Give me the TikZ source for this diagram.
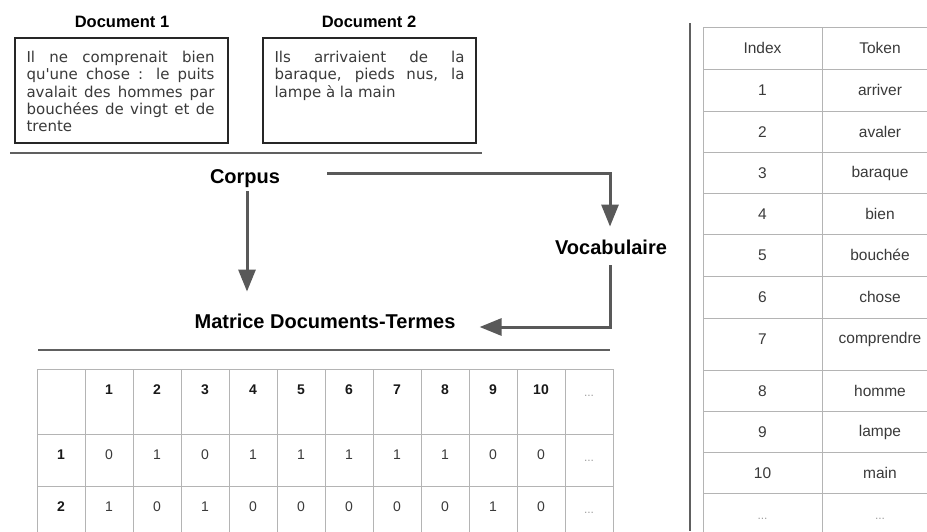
\documentclass[tikz,border=0pt]{standalone}
\usepackage{fontspec}
\setmainfont{Liberation Sans}
\newfontfamily\boxfont{DejaVu Sans}
\usetikzlibrary{arrows.meta}
\definecolor{arrgray}{HTML}{595959}
\definecolor{sepgray}{HTML}{606060}
\definecolor{gridgray}{HTML}{B4B4B4}
\definecolor{txtgray}{HTML}{3A3A3A}
\definecolor{dotgray}{HTML}{A0A0A0}
\begin{document}
\begin{tikzpicture}[x=1pt,y=-1pt,
  heading/.style={font=\fontsize{20}{24}\selectfont\bfseries, text height=14.5pt, text depth=4pt, inner sep=3pt},
  dochead/.style={font=\fontsize{16.5}{20}\selectfont\bfseries, inner sep=0pt},
  docbox/.style={draw=black!85, line width=1.3pt, minimum width=213pt, minimum height=105pt, inner sep=0pt},
  doctext/.style={font=\boxfont\fontsize{15}{17.3}\selectfont, text=txtgray, align=justify, inner sep=0pt, anchor=north west},
  arr/.style={draw=arrgray, line width=3pt, -{Triangle[width=17pt,length=22pt]}},
  sepline/.style={draw=sepgray, line width=2.5pt},
  gridline/.style={draw=gridgray, line width=1pt},
  cellb/.style={font=\fontsize{14}{16}\selectfont\bfseries, text=black!90, inner sep=0pt},
  cellv/.style={font=\fontsize{14}{16}\selectfont, text=txtgray, inner sep=0pt},
  celld/.style={font=\fontsize{12}{14}\selectfont, text=dotgray, inner sep=0pt, text height=10pt, text depth=0pt},
  vcell/.style={font=\fontsize{15.5}{18}\selectfont, text=txtgray, inner sep=0pt},
]
\useasboundingbox (0,0) rectangle (927,531);
\fill[white] (0,0) rectangle (927,531);
\clip (0,0) rectangle (927,531);

% documents
\node[dochead] (h1) at (122,22) {Document 1};
\node[dochead] (h2) at (369,22) {Document 2};
\node[docbox] (box1) at (121.5,90.5) {};
\node[docbox] (box2) at (369.5,90.5) {};
\node[doctext, text width=188pt] (t1) at ([xshift=12pt,yshift=-13.5pt]box1.north west)
  {Il ne comprenait bien\linebreak qu'une chose : le puits\linebreak avalait des hommes par\linebreak bouchées de vingt et de\linebreak trente};
\node[doctext, text width=190pt] (t2) at ([xshift=12pt,yshift=-13.5pt]box2.north west)
  {Ils arrivaient de la\linebreak baraque, pieds nus, la\linebreak lampe à la main};

\draw[sepline] (10,153) -- (482,153);

% flow
\node[heading] (corpus) at (245,178) {Corpus};
\node[heading] (vocab) at (611,249) {Vocabulaire};
\node[heading] (matrice) at (325,323) {Matrice Documents-Termes};

\draw[arr, shorten <=1pt, shorten >=19pt] ([xshift=2pt]corpus.south) -- ([xshift=2pt]corpus.south |- matrice.north);
\draw[arr, shorten <=44pt, shorten >=10pt] ([yshift=5pt]corpus.east) -| ([xshift=-1pt]vocab.north);
\draw[arr, shorten <=4pt, shorten >=21pt] ([xshift=-1pt]vocab.south) |- ([yshift=-4pt]matrice.east);

\draw[sepline] (38,350) -- (610,350);

% matrix table
\foreach \i in {0,...,12} \draw[gridline] (37+48*\i,369) -- (37+48*\i,540);
\foreach \yy in {369,434,486} \draw[gridline] (37,\yy) -- (613,\yy);
\foreach \c in {1,...,10} \node[cellb] (mh-\c) at (61+48*\c,390) {\c};
\node[celld] (mh-11) at (61+48*11,391) {...};
\node[cellb] (mr-1) at (61,455) {1};
\node[cellb] (mr-2) at (61,507) {2};
\foreach \v [count=\c] in {0,1,0,1,1,1,1,1,0,0} \node[cellv] (ma-\c) at (61+48*\c,455) {\v};
\foreach \v [count=\c] in {1,0,1,0,0,0,0,0,1,0} \node[cellv] (mb-\c) at (61+48*\c,507) {\v};
\node[celld] (ma-11) at (61+48*11,456) {...};
\node[celld] (mb-11) at (61+48*11,508) {...};

% vertical separator
\draw[sepline] (690,23) -- (690,531);

% vocabulary table
\draw[gridline] (703,27) -- (703,540);
\draw[gridline] (822,27) -- (822,540);
\foreach \yy in {27,69,111,152,193,234,276,318,370,411,452,493} \draw[gridline] (703,\yy) -- (930,\yy);
\foreach \yy/\idx/\tok [count=\k] in {27/Index/Token,69/1/arriver,111/2/avaler,152/3/baraque,193/4/bien,234/5/bouchée,276/6/chose,318/7/comprendre,370/8/homme,411/9/lampe,452/10/main}{
  \node[vcell] (vi-\k) at (762.5,\yy+21) {\idx};
  \node[vcell] (vt-\k) at (880,\yy+21) {\tok};
}
\node[celld] (vi-12) at (762.5,514) {...};
\node[celld] (vt-12) at (880,514) {...};
\end{tikzpicture}
\end{document}
